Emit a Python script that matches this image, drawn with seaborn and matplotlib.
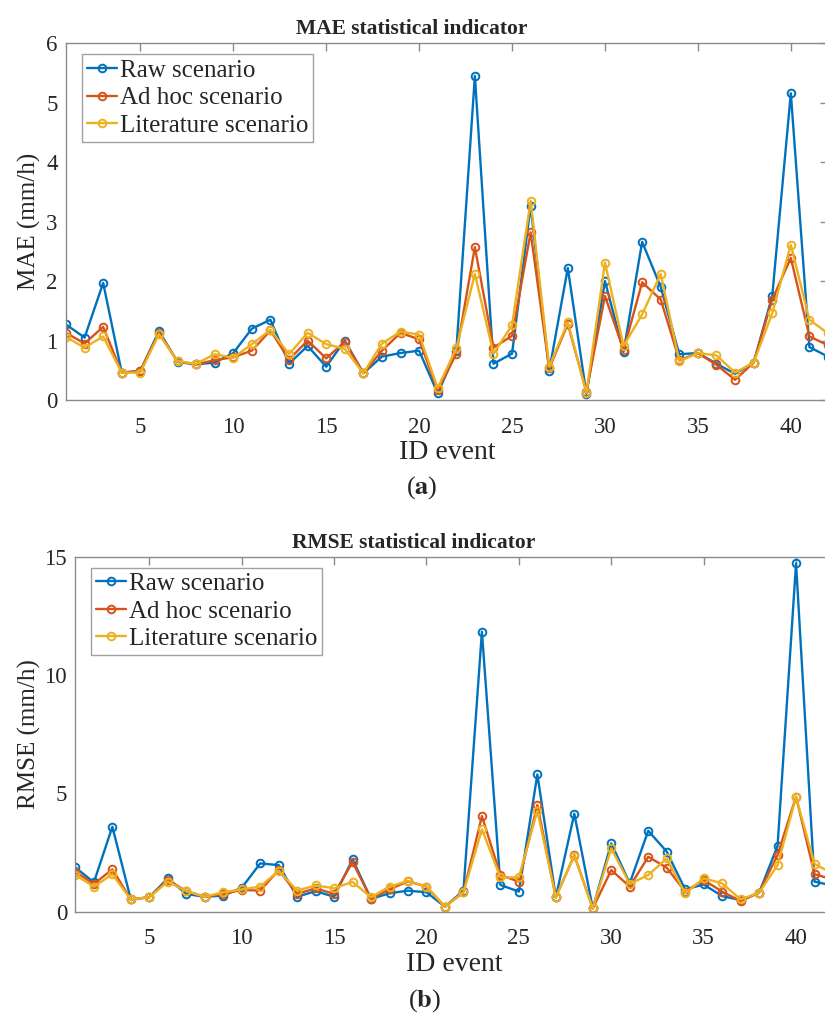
import numpy as np
import pandas as pd
import seaborn as sns
import matplotlib
matplotlib.use("Agg")
import matplotlib.pyplot as plt

events = list(range(1, 43))
scenarios = ["Raw scenario", "Ad hoc scenario", "Literature scenario"]
colors = ["#0072BD", "#D95319", "#EDB120"]

mae_raw = [1.27, 1.05, 1.97, 0.46, 0.49, 1.16, 0.64, 0.60, 0.63, 0.79, 1.20, 1.35, 0.61, 0.91,
           0.56, 1.00, 0.45, 0.73, 0.79, 0.83, 0.11, 0.82, 5.45, 0.61, 0.78, 3.27, 0.49, 2.22,
           0.10, 2.00, 0.81, 2.66, 1.90, 0.77, 0.79, 0.61, 0.44, 0.63, 1.75, 5.16, 0.89, 0.73]
mae_adhoc = [1.13, 0.95, 1.23, 0.46, 0.49, 1.13, 0.65, 0.60, 0.67, 0.72, 0.83, 1.17, 0.68, 1.00,
             0.70, 0.98, 0.45, 0.83, 1.13, 1.02, 0.16, 0.78, 2.57, 0.88, 1.08, 2.82, 0.53, 1.28,
             0.14, 1.75, 0.84, 1.98, 1.69, 0.67, 0.79, 0.59, 0.34, 0.63, 1.69, 2.39, 1.07, 0.92]
mae_lit = [1.06, 0.88, 1.07, 0.46, 0.46, 1.11, 0.65, 0.61, 0.77, 0.71, 0.94, 1.18, 0.77, 1.13,
           0.94, 0.86, 0.45, 0.95, 1.15, 1.10, 0.20, 0.87, 2.12, 0.78, 1.26, 3.35, 0.56, 1.31,
           0.12, 2.31, 0.91, 1.44, 2.12, 0.65, 0.79, 0.75, 0.46, 0.63, 1.46, 2.61, 1.35, 1.12]

rmse_raw = [1.87, 1.24, 3.59, 0.52, 0.61, 1.41, 0.75, 0.63, 0.68, 1.01, 2.04, 1.97, 0.63, 0.87,
            0.63, 2.21, 0.54, 0.78, 0.89, 0.82, 0.21, 0.89, 11.83, 1.13, 0.85, 5.80, 0.61, 4.14,
            0.14, 2.89, 1.20, 3.42, 2.54, 0.94, 1.15, 0.66, 0.49, 0.80, 2.78, 14.72, 1.27, 1.10]
rmse_adhoc = [1.69, 1.17, 1.79, 0.52, 0.61, 1.34, 0.87, 0.63, 0.75, 0.92, 0.89, 1.76, 0.75, 0.99,
              0.75, 2.10, 0.54, 0.95, 1.28, 1.06, 0.21, 0.82, 4.04, 1.55, 1.27, 4.51, 0.61, 2.39,
              0.14, 1.76, 1.06, 2.32, 1.86, 0.85, 1.34, 0.85, 0.45, 0.80, 2.40, 4.86, 1.59, 1.35]
rmse_lit = [1.55, 1.06, 1.58, 0.52, 0.61, 1.27, 0.87, 0.63, 0.82, 0.94, 1.06, 1.73, 0.89, 1.11,
            0.99, 1.26, 0.61, 1.06, 1.30, 1.06, 0.21, 0.82, 3.48, 1.45, 1.45, 4.27, 0.61, 2.37,
            0.14, 2.68, 1.17, 1.55, 2.25, 0.77, 1.41, 1.20, 0.52, 0.80, 1.97, 4.84, 2.02, 1.60]

sns.set_style("white")
plt.rcParams["font.family"] = ["Liberation Serif", "DejaVu Serif"]
plt.rcParams["mathtext.fontset"] = "stix"

GRAY = "#8a8a8a"
TXT = "#262626"
W, H = 825, 1014


def long_df(raw, adhoc, lit):
    parts = []
    for name, vals in zip(scenarios, [raw, adhoc, lit]):
        parts.append(pd.DataFrame({"event": events, "value": vals, "scenario": name}))
    return pd.concat(parts, ignore_index=True)


def draw(ax, df, ylim, yticks, ylabel, box):
    left, right, top, bottom = box  # axes box in pixels
    aw, ah = right - left, bottom - top
    sns.lineplot(data=df, x="event", y="value", hue="scenario", hue_order=scenarios,
                 palette=colors, marker="o", markersize=5.5, linewidth=1.7,
                 legend=False, ax=ax)
    for line, c in zip(ax.lines, colors):
        line.set_markeredgecolor(c)
        line.set_markerfacecolor("none")
        line.set_markeredgewidth(1.4)
    ax.set_xlim(1, 42)
    ax.set_ylim(*ylim)
    ax.set_xticks([5, 10, 15, 20, 25, 30, 35, 40])
    ax.set_yticks(yticks)
    ax.tick_params(direction="in", length=6, width=1, color=GRAY, labelsize=16.5,
                   labelcolor=TXT, top=True, right=True)
    ax.tick_params(axis="x", pad=12)
    ax.tick_params(axis="y", pad=6)
    for s in ax.spines.values():
        s.set_color(GRAY)
        s.set_linewidth(1)
    ax.set_xlabel("ID event", fontsize=20, color=TXT, va="top")
    ax.xaxis.set_label_coords(0.5, -(bottom + 40 - bottom) / ah)
    ax.set_ylabel(ylabel, fontsize=18, color=TXT)
    ax.yaxis.set_label_coords((41 - left) / aw, 0.5)
    leg = ax.legend(ax.lines[:3], scenarios, loc="upper left",
                    bbox_to_anchor=((left + 15.5 - left) / aw, 1 - 11 / ah),
                    fontsize=18, frameon=True, fancybox=False, edgecolor=GRAY,
                    handlelength=1.2, handletextpad=0.12, borderpad=0.2,
                    labelspacing=0.2, borderaxespad=0)
    leg.get_frame().set_linewidth(1)


fig = plt.figure(figsize=(W / 100, H / 100), dpi=100)

box1 = (66, 828, 43.3, 400)
ax1 = fig.add_axes([box1[0] / W, 1 - box1[3] / H, (box1[1] - box1[0]) / W,
                    (box1[3] - box1[2]) / H])
draw(ax1, long_df(mae_raw, mae_adhoc, mae_lit), (0, 6), range(0, 7), "MAE (mm/h)", box1)

box2 = (75.4, 833, 556.7, 911.7)
ax2 = fig.add_axes([box2[0] / W, 1 - box2[3] / H, (box2[1] - box2[0]) / W,
                    (box2[3] - box2[2]) / H])
draw(ax2, long_df(rmse_raw, rmse_adhoc, rmse_lit), (0, 15), [0, 5, 10, 15], "RMSE (mm/h)", box2)

fig.text(412 / W, 1 - 34 / H, "MAE statistical indicator", ha="center", va="baseline",
         fontsize=15.5, fontweight="bold")
fig.text(414 / W, 1 - 548 / H, "RMSE statistical indicator", ha="center", va="baseline",
         fontsize=15.5, fontweight="bold")
fig.text(422 / W, 1 - 494 / H, r"($\mathbf{a}$)", ha="center", va="baseline", fontsize=19)
fig.text(425 / W, 1 - 1007 / H, r"($\mathbf{b}$)", ha="center", va="baseline", fontsize=19)

fig.savefig("out.png", dpi=100)
